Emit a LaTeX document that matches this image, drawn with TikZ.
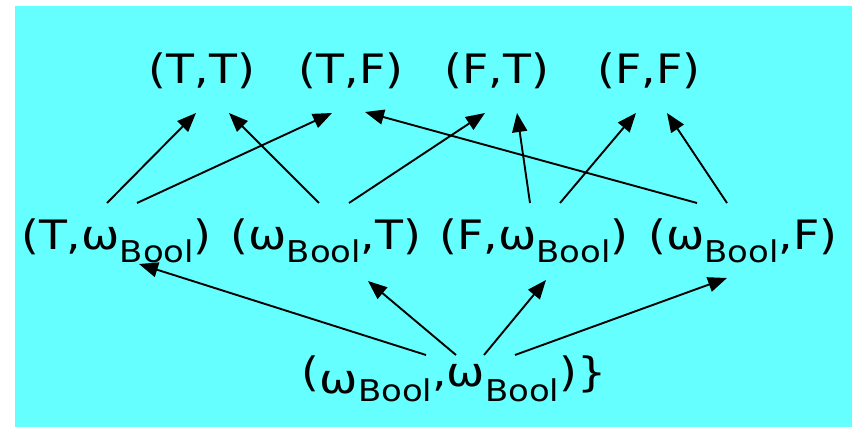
\documentclass[tikz,border=0pt]{standalone}
\usepackage{fontspec}
\usepackage{graphicx}
\setmainfont{DejaVu Sans}
\usetikzlibrary{arrows.meta}
\definecolor{bgcyan}{HTML}{66FFFF}
\newcommand\bsub{\lower13pt\hbox{\fontsize{30}{30}\selectfont Bool}}
\newcommand\bsubb{\lower15pt\hbox{\fontsize{30}{30}\selectfont Bool}}
\newcommand\widetxt[1]{\scalebox{1.13}[1]{#1}}
\begin{document}
\begin{tikzpicture}[x=1pt,y=-1pt,
  lbl/.style={anchor=base,inner sep=0pt,font=\fontsize{40.5}{42}\selectfont},
  arr/.style={line width=1.9pt,-{Triangle[length=19pt,width=15pt]}}]
\useasboundingbox (0,0) rectangle (852,427);
\fill[bgcyan] (15,6) rectangle (852,427);
% top row
\node[lbl] (t1) at (202,84) {\widetxt{(T,T)}};
\node[lbl] (t2) at (351,84) {\widetxt{(T,F)}};
\node[lbl] (t3) at (497,84) {\widetxt{(F,T)}};
\node[lbl] (t4) at (649,84) {\widetxt{(F,F)}};
% middle row
\node[lbl] (m1) at (116.5,250) {\widetxt{(T,ω\bsub)}};
\node[lbl] (m2) at (326,250) {\widetxt{(ω\bsub,T)}};
\node[lbl] (m3) at (534,250) {\widetxt{(F,ω\bsub)}};
\node[lbl] (m4) at (743,250) {\widetxt{(ω\bsub,F)}};
% bottom
\node[lbl] (b) at (454,387) {\widetxt{(\lower7pt\hbox{ω}\bsubb,ω\bsubb)\}}};
% arrows middle -> top
\draw[arr] ([shift={(-9.5,-47)}]m1.base) -- ([shift={(-6,29)}]t1.base);
\draw[arr] ([shift={(20.5,-47)}]m1.base) -- ([shift={(-19,29)}]t2.base);
\draw[arr] ([shift={(-7,-47)}]m2.base) -- ([shift={(27,29)}]t1.base);
\draw[arr] ([shift={(23,-47)}]m2.base) -- ([shift={(-12,29)}]t3.base);
\draw[arr] ([shift={(-4,-47)}]m3.base) -- ([shift={(20,29)}]t3.base);
\draw[arr] ([shift={(26,-47)}]m3.base) -- ([shift={(-13,29)}]t4.base);
\draw[arr] ([shift={(-46,-47)}]m4.base) -- ([shift={(14,28)}]t2.base);
\draw[arr] ([shift={(-16,-47)}]m4.base) -- ([shift={(18,29)}]t4.base);
% arrows bottom -> middle
\draw[arr] ([shift={(-28,-32)}]b.base) -- ([shift={(22.5,14)}]m1.base);
\draw[arr] ([shift={(2,-32)}]b.base) -- ([shift={(42,31)}]m2.base);
\draw[arr] ([shift={(30,-32)}]b.base) -- ([shift={(12,30)}]m3.base);
\draw[arr] ([shift={(61,-32)}]b.base) -- ([shift={(-16,28)}]m4.base);
\end{tikzpicture}
\end{document}
